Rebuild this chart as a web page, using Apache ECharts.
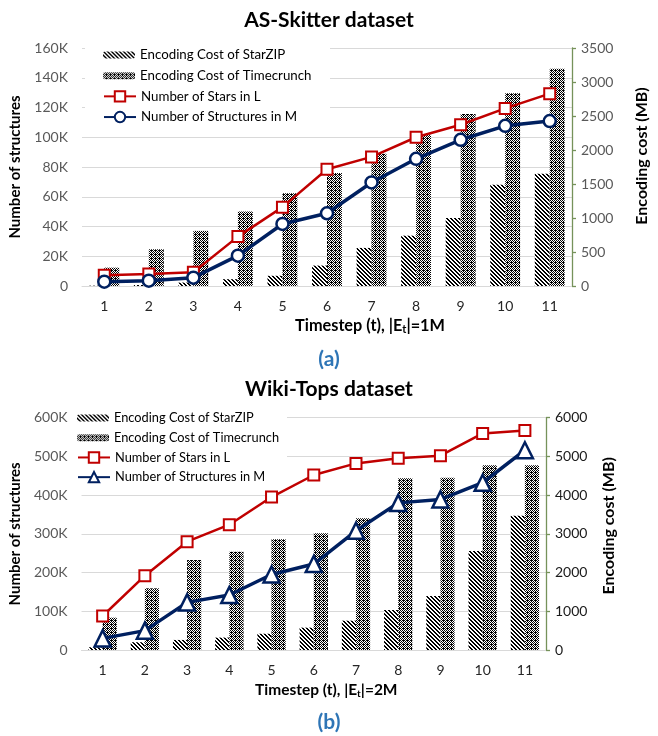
<!DOCTYPE html>
<html>
<head>
<meta charset="utf-8">
<script src="https://cdn.jsdelivr.net/npm/echarts@6/dist/echarts.min.js"></script>
<style>
  html, body { margin: 0; padding: 0; background: #fff; }
  #top { width: 658px; height: 374px; }
  #bottom { width: 658px; height: 362px; }
</style>
</head>
<body>
<div id="top"></div>
<div id="bottom"></div>
<script>
// Timesteps shared by both datasets
const timesteps = ['1', '2', '3', '4', '5', '6', '7', '8', '9', '10', '11'];

// AS-Skitter, |E_t| = 1M
const skitterStarzipMB = [5, 15, 50, 100, 150, 300, 560, 740, 1000, 1490, 1650];
const skitterTimecrunchMB = [270, 540, 810, 1095, 1365, 1660, 1945, 2225, 2530, 2835, 3195];
const skitterStarsL = [7200, 8000, 9200, 33200, 53000, 78500, 86800, 100000, 108400, 119400, 129300];
const skitterStructuresM = [2900, 3600, 5600, 20400, 41700, 48900, 69600, 85500, 98300, 107700, 110900];

// Wiki-Tops, |E_t| = 2M
const wikiStarzipMB = [70, 200, 260, 320, 420, 577, 757, 1033, 1395, 2557, 3469];
const wikiTimecrunchMB = [835, 1592, 2324, 2539, 2858, 3013, 3400, 4433, 4450, 4769, 4769];
const wikiStarsL = [87800, 192000, 279800, 323700, 395000, 452000, 482000, 495000, 502000, 559500, 567000];
const wikiStructuresM = [30000, 50000, 123000, 142000, 195000, 222000, 308000, 380000, 389000, 432000, 516000];

const seriesNames = [
  'Encoding Cost of StarZIP',
  'Encoding Cost of Timecrunch',
  'Number of Stars in L',
  'Number of Structures in M'
];

const FONT = 'Lato';
const RED = '#C00000';
const NAVY = '#002060';
const GRID_LINE = '#d9d9d9';
const AXIS_GREEN = '#76925a';

// Hatch fills for the bars, built as small repeating tiles
function makeTile(size, isBlack) {
  const c = document.createElement('canvas');
  c.width = size; c.height = size;
  const ctx = c.getContext('2d');
  const img = ctx.createImageData(size, size);
  for (let y = 0; y < size; y++) {
    for (let x = 0; x < size; x++) {
      const v = isBlack(x, y) ? 0 : 255;
      const i = (y * size + x) * 4;
      img.data[i] = v; img.data[i + 1] = v; img.data[i + 2] = v; img.data[i + 3] = 255;
    }
  }
  ctx.putImageData(img, 0, 0);
  return c;
}
const stripeTile = makeTile(4, (x, y) => (((x - y) % 4) + 4) % 4 < 2);
const dotRows = ['BWBW', 'WBWB', 'BWBB', 'WBWB'];
const dotTile = makeTile(4, (x, y) => dotRows[y][x] === 'B');
const stripeFill = { image: stripeTile, repeat: 'repeat' };
const dotFill = { image: dotTile, repeat: 'repeat' };

function buildOption(cfg) {
  return {
    animation: false,
    textStyle: { fontFamily: FONT },
    title: {
      text: cfg.title,
      left: 'center',
      top: cfg.titleTop,
      textStyle: { fontFamily: FONT, fontSize: 21, fontWeight: 'bold', color: '#000' }
    },
    graphic: [
      {
        type: 'rect', z: 1,
        shape: cfg.legendBox,
        style: { fill: '#fff' }
      },
      {
        type: 'text', left: 'center', top: cfg.tagTop, z: 5,
        style: { text: cfg.tag, font: 'bold 21px ' + FONT, fill: '#2E75B6' }
      }
    ],
    legend: [
      {
        data: [{ name: seriesNames[0] }, { name: seriesNames[1] }],
        orient: 'vertical', left: cfg.legendLeft, top: cfg.legendTop,
        padding: 0, itemGap: 0, itemWidth: 32, itemHeight: 7,
        selectedMode: false,
        textStyle: { fontFamily: FONT, fontSize: cfg.legendFont, color: '#000', lineHeight: cfg.legendRow }
      },
      {
        data: [{ name: seriesNames[2] }, { name: seriesNames[3] }],
        orient: 'vertical', left: cfg.legendLeft, top: cfg.legendTop + 2 * cfg.legendRow,
        padding: 0, itemGap: 0, itemWidth: 32, itemHeight: 13,
        selectedMode: false,
        textStyle: { fontFamily: FONT, fontSize: cfg.legendFont, color: '#000', lineHeight: cfg.legendRow }
      }
    ],
    grid: { left: cfg.grid.left, right: cfg.grid.right, top: cfg.grid.top, bottom: cfg.grid.bottom, containLabel: false },
    xAxis: {
      type: 'category',
      data: timesteps,
      axisTick: { show: false },
      axisLine: { lineStyle: { color: GRID_LINE, width: 1 } },
      axisLabel: { color: '#262626', fontSize: 14, fontFamily: FONT, margin: 13 },
      name: cfg.xName,
      nameLocation: 'middle',
      nameGap: cfg.xNameGap,
      nameTextStyle: {
        color: '#000', fontSize: cfg.xNameFont, fontWeight: 'bold', fontFamily: FONT,
        padding: [0, 0, 0, cfg.xNameShift],
        rich: {
          sub: {
            fontSize: Math.round(cfg.xNameFont * 0.65), fontWeight: 'bold', fontFamily: FONT,
            color: '#000', verticalAlign: 'bottom', padding: [7, 0, 0, 0]
          }
        }
      }
    },
    yAxis: [
      {
        type: 'value',
        min: 0, max: cfg.leftMax, interval: cfg.leftInterval,
        axisLine: { show: false },
        axisTick: { show: false },
        splitLine: { lineStyle: { color: GRID_LINE, width: 1 } },
        axisLabel: {
          color: '#595959', fontSize: 14, fontFamily: FONT, margin: 14,
          formatter: v => v === 0 ? '0' : (v / 1000) + 'K'
        },
        name: 'Number of structures',
        nameLocation: 'middle',
        nameGap: cfg.leftNameGap,
        nameTextStyle: { color: '#000', fontSize: 15, fontWeight: 'bold', fontFamily: FONT }
      },
      {
        type: 'value',
        min: 0, max: cfg.rightMax, interval: cfg.rightInterval,
        position: 'right',
        axisLine: { show: true, lineStyle: { color: AXIS_GREEN, width: 1.3 } },
        axisTick: { show: true, inside: false, length: 4, lineStyle: { color: AXIS_GREEN, width: 1.3 } },
        splitLine: { show: false },
        axisLabel: {
          color: cfg.rightLabelColor, fontSize: 14, fontFamily: FONT, margin: 9,
          formatter: v => String(v)
        },
        name: 'Encoding cost (MB)',
        nameLocation: 'middle',
        nameGap: cfg.rightNameGap,
        nameRotate: 90,
        nameTextStyle: {
          color: '#000', fontSize: 16, fontWeight: 'bold', fontFamily: FONT,
          padding: [0, 0, 0, cfg.rightNameShift]
        }
      }
    ],
    series: [
      {
        name: seriesNames[0], type: 'bar', yAxisIndex: 1,
        data: cfg.starzip,
        barGap: '0%', barCategoryGap: '33%',
        itemStyle: { color: stripeFill },
        emphasis: { disabled: true }
      },
      {
        name: seriesNames[1], type: 'bar', yAxisIndex: 1,
        data: cfg.timecrunch,
        barGap: '0%', barCategoryGap: '33%',
        itemStyle: { color: dotFill },
        emphasis: { disabled: true }
      },
      {
        name: seriesNames[2], type: 'line', yAxisIndex: 0, z: 3,
        data: cfg.stars,
        symbol: 'rect', symbolSize: 11,
        lineStyle: { color: RED, width: 2.5 },
        itemStyle: { color: '#fff', borderColor: RED, borderWidth: 2 },
        emphasis: { disabled: true }
      },
      {
        name: seriesNames[3], type: 'line', yAxisIndex: 0, z: 4,
        data: cfg.structures,
        symbol: cfg.structSymbol, symbolSize: cfg.structSymbolSize,
        lineStyle: { color: NAVY, width: 3.5 },
        itemStyle: { color: '#fff', borderColor: NAVY, borderWidth: 2.5 },
        emphasis: { disabled: true }
      }
    ]
  };
}

const topChart = echarts.init(document.getElementById('top'), null, { renderer: 'canvas' });
topChart.setOption(buildOption({
  title: 'AS-Skitter dataset',
  titleTop: 5,
  tag: '(a)', tagTop: 349,
  grid: { left: 79.5, right: 82, top: 48, bottom: 88 },
  legendBox: { x: 85, y: 44, width: 245, height: 84 },
  legendLeft: 103, legendTop: 44.6, legendRow: 20.7, legendFont: 13.3,
  xName: 'Timestep (t), |E{sub|t}|=1M',
  xNameFont: 16.3, xNameGap: 30, xNameShift: 86,
  leftMax: 160000, leftInterval: 20000, leftNameGap: 59,
  rightMax: 3500, rightInterval: 500, rightNameGap: 62, rightNameShift: 22,
  rightLabelColor: '#595959',
  starzip: skitterStarzipMB, timecrunch: skitterTimecrunchMB,
  stars: skitterStarsL, structures: skitterStructuresM,
  structSymbol: 'circle', structSymbolSize: 12
}));

const bottomChart = echarts.init(document.getElementById('bottom'), null, { renderer: 'canvas' });
bottomChart.setOption(buildOption({
  title: 'Wiki-Tops dataset',
  titleTop: 0,
  tag: '(b)', tagTop: 338,
  grid: { left: 71.5, right: 112, top: 43.7, bottom: 86 },
  legendBox: { x: 76, y: 34, width: 211, height: 79 },
  legendLeft: 77, legendTop: 34.2, legendRow: 19.7, legendFont: 12.8,
  xName: 'Timestep (t), |E{sub|t}|=2M',
  xNameFont: 15.5, xNameGap: 29, xNameShift: 25,
  leftMax: 600000, leftInterval: 100000, leftNameGap: 52,
  rightMax: 6000, rightInterval: 1000, rightNameGap: 55, rightNameShift: 16,
  rightLabelColor: '#1a1a1a',
  starzip: wikiStarzipMB, timecrunch: wikiTimecrunchMB,
  stars: wikiStarsL, structures: wikiStructuresM,
  structSymbol: 'triangle', structSymbolSize: 16
}));
</script>
</body>
</html>
